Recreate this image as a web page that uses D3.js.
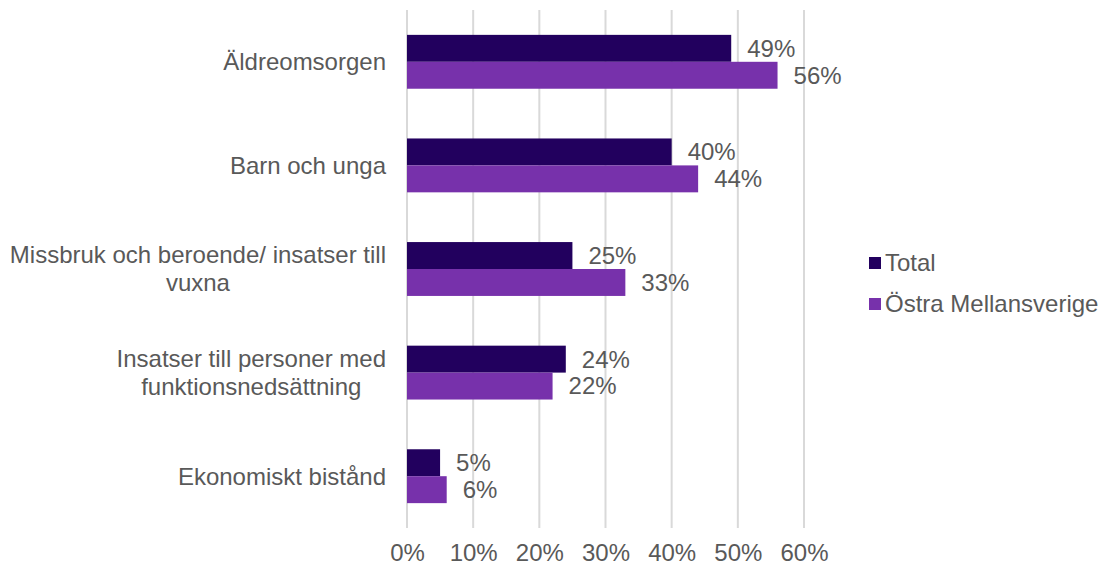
<!DOCTYPE html>
<html>
<head>
<meta charset="utf-8">
<script src="https://cdn.jsdelivr.net/npm/d3@7"></script>
<style>
  body { margin: 0; background: #fff; }
  text { font-family: "Liberation Sans", Arial, sans-serif; fill: #595959; }
</style>
</head>
<body>
<div class="chart"></div>
<script>
var svgWidth = 1102;
var svgHeight = 567;

// data
var categories = [
  ["Äldreomsorgen"],
  ["Barn och unga"],
  ["Missbruk och beroende/ insatser till", "vuxna"],
  ["Insatser till personer med", "funktionsnedsättning"],
  ["Ekonomiskt bistånd"]
];
var seriesNames = ["Total", "Östra Mellansverige"];
var totalValues = [49, 40, 25, 24, 5];
var ostraValues = [56, 44, 33, 22, 6];
var tickValues = [0, 10, 20, 30, 40, 50, 60];
var colors = ["#22005e", "#7731ab"];

var fontSize = "24px";

var margin = { top: 10, right: 298, bottom: 39, left: 407 };
var width = svgWidth - margin.left - margin.right;
var height = svgHeight - margin.top - margin.bottom;

var svg = d3.select(".chart")
  .append("svg")
  .attr("width", svgWidth)
  .attr("height", svgHeight);

var chartGroup = svg.append("g")
  .attr("transform", `translate(${margin.left}, ${margin.top})`);

var xScale = d3.scaleLinear()
  .domain([0, 60])
  .range([0, width]);

var yScale = d3.scaleBand()
  .domain(d3.range(categories.length))
  .range([0, height])
  .paddingInner(0.48)
  .paddingOuter(0.24);

var subScale = d3.scaleBand()
  .domain([0, 1])
  .range([0, yScale.bandwidth()]);

// gridlines
chartGroup.append("g")
  .selectAll("line")
  .data(tickValues)
  .enter()
  .append("line")
  .attr("x1", d => xScale(d))
  .attr("x2", d => xScale(d))
  .attr("y1", 0)
  .attr("y2", height)
  .attr("stroke", "#d9d9d9")
  .attr("stroke-width", 2);

// x axis labels
var bottomAxis = d3.axisBottom(xScale)
  .tickValues(tickValues)
  .tickSize(0)
  .tickPadding(16)
  .tickFormat(d => d + "%");

var xAxis = chartGroup.append("g")
  .attr("transform", `translate(0, ${height})`)
  .call(bottomAxis);
xAxis.select(".domain").remove();
xAxis.selectAll("text")
  .style("font-size", fontSize)
  .style("font-family", "'Liberation Sans', Arial, sans-serif")
  .attr("fill", "#595959");

// bars
var seriesData = [totalValues, ostraValues];
seriesData.forEach(function (vals, s) {
  chartGroup.append("g")
    .selectAll("rect")
    .data(vals)
    .enter()
    .append("rect")
    .attr("x", xScale(0))
    .attr("y", (d, i) => yScale(i) + subScale(s))
    .attr("width", d => xScale(d) - xScale(0))
    .attr("height", subScale.bandwidth())
    .attr("fill", colors[s]);

  chartGroup.append("g")
    .selectAll("text")
    .data(vals)
    .enter()
    .append("text")
    .attr("x", d => xScale(d) + 16)
    .attr("y", (d, i) => yScale(i) + subScale(s) + subScale.bandwidth() / 2)
    .attr("dy", "0.35em")
    .style("font-size", fontSize)
    .text(d => d + "%");
});

// category labels (centered lines, block right-aligned)
var lineHeight = 28;
categories.forEach(function (lines, i) {
  var cy = yScale(i) + yScale.bandwidth() / 2;
  var g = chartGroup.append("g");
  var texts = lines.map(function (line, j) {
    return g.append("text")
      .attr("y", cy + (j - (lines.length - 1) / 2) * lineHeight)
      .attr("dy", "0.35em")
      .attr("text-anchor", "middle")
      .style("font-size", fontSize)
      .text(line);
  });
  var maxW = d3.max(texts, t => t.node().getComputedTextLength());
  texts.forEach(t => t.attr("x", -21 - maxW / 2));
});

// legend
var legend = svg.append("g")
  .attr("transform", "translate(869, 263)");
seriesNames.forEach(function (name, i) {
  var row = legend.append("g")
    .attr("transform", `translate(0, ${i * 41})`);
  row.append("rect")
    .attr("x", 0)
    .attr("y", -6)
    .attr("width", 12)
    .attr("height", 12)
    .attr("fill", colors[i]);
  row.append("text")
    .attr("x", 16)
    .attr("y", 0)
    .attr("dy", "0.35em")
    .style("font-size", fontSize)
    .text(name);
});
</script>
</body>
</html>
